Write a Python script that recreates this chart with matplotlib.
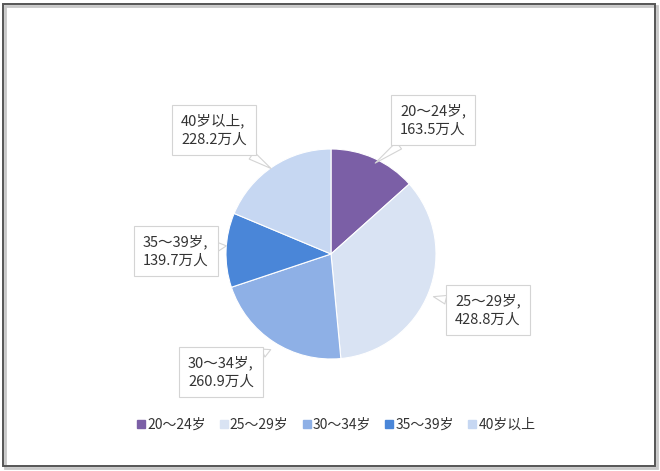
import matplotlib
matplotlib.use("Agg")
import matplotlib.pyplot as plt
from matplotlib.patches import Rectangle
from matplotlib.lines import Line2D

plt.rcParams['font.family'] = ['Noto Sans CJK SC', 'DejaVu Sans']

# ---- data ----
groups = ["20～24岁", "25～29岁", "30～34岁", "35～39岁", "40岁以上"]
values = [163.5, 428.8, 260.9, 139.7, 228.2]
colors = ["#7b5fa6", "#d9e3f3", "#8eb0e6", "#4a86d8", "#c6d7f2"]

W, H = 660, 471
fig = plt.figure(figsize=(W / 100, H / 100), dpi=100)
fig.patch.set_facecolor("white")

# outer frame (a faint shadow, then the dark border)
fig.patches.append(Rectangle((5 / W, 3 / H), 652 / W, 462 / H, transform=fig.transFigure,
                             fill=False, ec="#c8c8c8", lw=2.0))
fig.patches.append(Rectangle((3 / W, 5 / H), 652 / W, 462 / H, transform=fig.transFigure,
                             fill=False, ec="#555555", lw=1.4))

# pie: centre (331, 254) px from top, radius 105 px
cx, cy, r = 331, H - 254, 105
ax = fig.add_axes([(cx - r) / W, (cy - r) / H, 2 * r / W, 2 * r / H])
wedges, _ = ax.pie(values, colors=colors, startangle=90, counterclock=False,
                   wedgeprops=dict(edgecolor="white", linewidth=0.8))
ax.set_xlim(-1, 1)
ax.set_ylim(-1, 1)
ax.set_aspect("equal")
ax.axis("off")

# callout label positions (text left edge / middle, px from top) and pointer targets (data)
label_pos = [(400, 120), (455, 310), (188, 372), (143, 251), (181, 130)]
targets = [(0.40, 0.85), (0.95, -0.40), (-0.55, -0.90), (-0.97, 0.08), (-0.55, 0.80)]
for g, v, (tx, ty), xy in zip(groups, values, label_pos, targets):
    ax.annotate(f"{g},\n{v:.1f}万人", xy=xy, xycoords="data",
                xytext=(tx, H - ty), textcoords="figure pixels",
                ha="left", va="center", fontsize=10.5, color="#333333", linespacing=1.35,
                bbox=dict(boxstyle="square,pad=0.6", fc="white", ec="#d4d4d4", lw=0.8),
                arrowprops=dict(arrowstyle="wedge,tail_width=0.6,shrink_factor=0.5",
                                fc="white", ec="#d4d4d4", lw=0.8, shrinkA=0, shrinkB=2))

# legend along the bottom
handles = [Line2D([], [], marker="s", ls="none", ms=6, mfc=c, mec=c) for c in colors]
fig.legend(handles, groups, loc="center", bbox_to_anchor=(0.508, 46 / H), ncol=5,
           frameon=False, fontsize=10, handletextpad=0.05, columnspacing=0.9,
           labelcolor="#333333", handlelength=0.8)

fig.savefig("out.png", dpi=100)
